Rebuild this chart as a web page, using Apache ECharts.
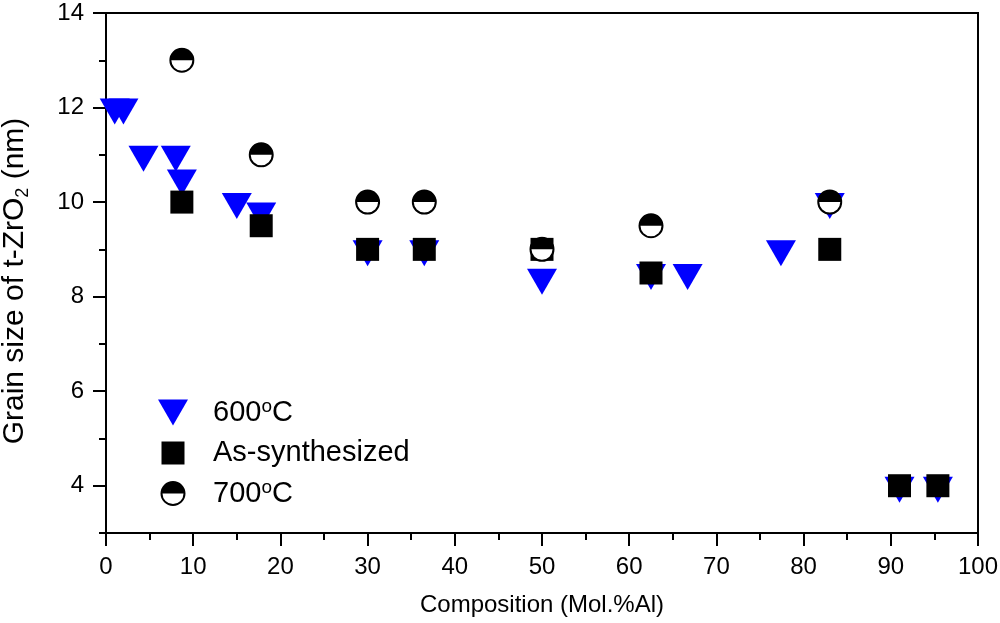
<!DOCTYPE html>
<html>
<head>
<meta charset="utf-8">
<script src="https://cdn.jsdelivr.net/npm/echarts@6/dist/echarts.min.js"></script>
<style>
  html, body { margin: 0; padding: 0; background: #fff; }
  #chart { width: 1000px; height: 623px; }
</style>
</head>
<body>
<div id="chart"></div>
<script>
// data
var comp600 = [1, 2, 4.3, 8, 8.7, 15, 17.8, 30, 36.5, 50, 62.5, 66.7, 77.4, 83, 91, 95.4];
var grain600 = [12, 12, 11, 11, 10.5, 10, 9.8, 9, 9, 8.4, 8.5, 8.5, 9, 10, 4, 4];
var compAs = [8.7, 17.8, 30, 36.5, 50, 62.5, 83, 91, 95.4];
var grainAs = [10, 9.5, 9, 9, 9, 8.5, 9, 4, 4];
var comp700 = [8.7, 17.8, 30, 36.5, 50, 62.5, 83];
var grain700 = [13, 11, 10, 10, 9, 9.5, 10];

var yTicks = [4, 6, 8, 10, 12, 14];
var yMinorTicks = [3, 5, 7, 9, 11, 13];

function pairs(xs, ys) {
  return xs.map(function (x, i) { return [x, ys[i]]; });
}

// half filled circle marker, one for the plot and a wider box for the legend
function halfCircle(w, h) {
  var cx = w / 2, cy = h / 2;
  var svg = "<svg xmlns='http://www.w3.org/2000/svg' width='" + w + "' height='" + h + "' viewBox='0 0 " + w + " " + h + "'>" +
    "<circle cx='" + cx + "' cy='" + cy + "' r='11.5' fill='white' stroke='black' stroke-width='2'/>" +
    "<path d='M" + (cx - 11.5) + "," + cy + " A11.5,11.5 0 0 1 " + (cx + 11.5) + "," + cy + " Z' fill='black'/></svg>";
  return 'image://data:image/svg+xml;charset=utf-8,' + encodeURIComponent(svg);
}
var halfIcon = halfCircle(26, 26);
var halfLegend = halfCircle(30, 26);
var downTri = 'path://M0,0 L30,0 L15,26 Z';
var squareLegend = 'path://M0,0 M30,26 M3.5,1.5 L26.5,1.5 L26.5,24.5 L3.5,24.5 Z';

var font = 'Liberation Sans, Arial, sans-serif';

var myChart = echarts.init(document.getElementById('chart'), null, { renderer: 'canvas' });

var option = {
  animation: false,
  backgroundColor: '#fff',
  textStyle: { fontFamily: font, color: '#000' },
  grid: {
    left: 106, right: 22, top: 13, bottom: 90,
    containLabel: false,
    outerBoundsMode: 'none',
    show: true, borderColor: '#000', borderWidth: 2
  },
  legend: {
    orient: 'vertical',
    left: 153,
    top: 392,
    itemWidth: 30,
    itemHeight: 26,
    itemGap: 10,
    data: [
      { name: '600°C', icon: downTri },
      { name: 'As-synthesized', icon: squareLegend },
      { name: '700°C', icon: halfLegend }
    ],
    formatter: function (name) {
      return name.replace('°', '{sup|o}');
    },
    textStyle: {
      fontFamily: font, fontSize: 29, color: '#000', lineHeight: 30,
      padding: [0, 0, 0, 20],
      rich: {
        sup: { fontFamily: font, fontSize: 19, color: '#000', lineHeight: 19, padding: [0, 0, 12, 0] }
      }
    }
  },
  xAxis: {
    type: 'value',
    min: 0, max: 100, interval: 10,
    name: 'Composition (Mol.%Al)',
    nameLocation: 'middle',
    nameGap: 60,
    nameTextStyle: { fontFamily: font, fontSize: 24, color: '#000' },
    axisLine: { lineStyle: { color: '#000', width: 2 } },
    axisTick: { show: true, inside: false, length: 13, lineStyle: { color: '#000', width: 2 } },
    minorTick: { show: true, splitNumber: 2, length: 7, lineStyle: { color: '#000', width: 2 } },
    axisLabel: { fontFamily: font, fontSize: 24, color: '#000', margin: 22 },
    splitLine: { show: false }
  },
  yAxis: [{
    type: 'value',
    min: 3, max: 14,
    name: 'Grain size of t-ZrO{sub|2} (nm)',
    nameLocation: 'middle',
    nameGap: 74,
    nameTextStyle: {
      fontFamily: font, fontSize: 30, color: '#000',
      padding: [0, 16, 0, 0],
      rich: {
        sub: { fontFamily: font, fontSize: 18, color: '#000', padding: [16, 0, 0, 0] }
      }
    },
    axisLine: { lineStyle: { color: '#000', width: 2 } },
    axisTick: { show: true, inside: false, length: 13, customValues: yTicks, lineStyle: { color: '#000', width: 2 } },
    axisLabel: { fontFamily: font, fontSize: 24, color: '#000', margin: 22, customValues: yTicks },
    splitLine: { show: false }
  }, {
    type: 'value',
    position: 'left',
    min: 3, max: 14,
    axisLine: { show: false },
    axisTick: { show: true, inside: false, length: 7, customValues: yMinorTicks, lineStyle: { color: '#000', width: 2 } },
    axisLabel: { show: false },
    splitLine: { show: false }
  }],
  series: [
    {
      name: '600°C',
      type: 'scatter',
      symbol: downTri,
      symbolSize: [30, 26],
      symbolOffset: [0, 4],
      itemStyle: { color: '#0000ff', opacity: 1 },
      data: pairs(comp600, grain600)
    },
    {
      name: 'As-synthesized',
      type: 'scatter',
      symbol: 'rect',
      symbolSize: 23,
      itemStyle: { color: '#000', opacity: 1 },
      data: pairs(compAs, grainAs)
    },
    {
      name: '700°C',
      type: 'scatter',
      symbol: halfIcon,
      symbolSize: 26,
      itemStyle: { color: '#000', opacity: 1 },
      data: pairs(comp700, grain700)
    }
  ]
};

myChart.setOption(option);
window.addEventListener('resize', myChart.resize);
</script>
</body>
</html>
